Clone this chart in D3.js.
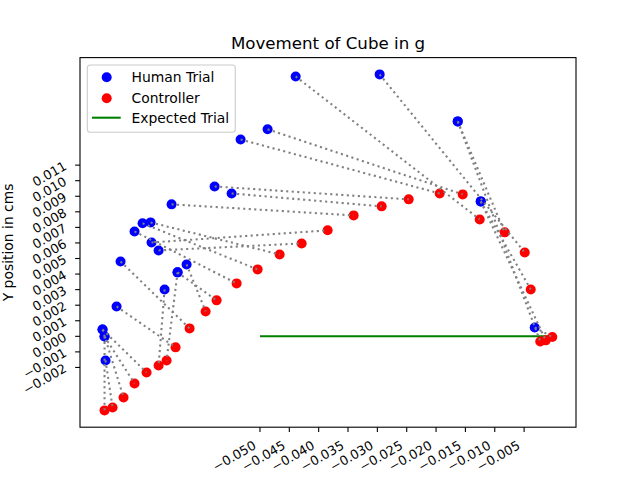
<!DOCTYPE html>
<html>
<head>
<meta charset="utf-8">
<script src="https://cdn.jsdelivr.net/npm/d3@7"></script>
<style>
  html, body { margin: 0; padding: 0; background: #fff; }
  svg { display: block; font-family: "DejaVu Sans", sans-serif; }
</style>
</head>
<body>
<svg id="chart" width="640" height="480"></svg>
<script>
// ---- data (cm) ----
const humanX = [-0.04392, -0.02961, -0.01631, -0.01631, -0.01239, -0.01239, -0.00319,
  -0.04870, -0.05330, -0.05773, -0.05483, -0.06506,
  -0.06847, -0.06727, -0.06864, -0.07000, -0.07137, -0.07375, -0.06404, -0.06250, -0.06404, -0.06625, -0.07443,
  -0.07682, -0.07648, -0.07682, -0.07631, -0.07648];
const humanY = [0.01670, 0.01683, 0.01381, 0.01381, 0.00867, 0.00867, 0.00057,
  0.01330, 0.01265, 0.00963, 0.00918, 0.00848,
  0.00603, 0.00552, 0.00732, 0.00726, 0.00674, 0.00481, 0.00411, 0.00462, 0.00411, 0.00301, 0.00192,
  0.00044, -0.00001, 0.00044, -0.00155, -0.00001];
const ctrlX = [-0.01256, -0.00489, -0.00830, -0.00225, -0.00387, -0.00131, -0.00020,
  -0.01546, -0.01938, -0.02466, -0.02927, -0.03404,
  -0.03847, -0.04290, -0.04665, -0.05040, -0.05398, -0.06199, -0.05739, -0.05926, -0.06591, -0.06727, -0.06438,
  -0.06932, -0.07137, -0.07324, -0.07511, -0.07648];
const ctrlY = [0.00751, 0.00539, 0.00668, -0.00033, 0.00301, -0.00026, -0.00004,
  0.00912, 0.00918, 0.00880, 0.00835, 0.00777,
  0.00681, 0.00597, 0.00526, 0.00430, 0.00340, 0.00051, 0.00231, 0.00160, -0.00155, -0.00187, -0.00071,
  -0.00232, -0.00303, -0.00393, -0.00457, -0.00476];
const expectedX = [-0.05, 0.0];
const expectedY = [0.0, 0.0];
const xTicks = [-0.050, -0.045, -0.040, -0.035, -0.030, -0.025, -0.020, -0.015, -0.010, -0.005];
const yTicks = [-0.002, -0.001, 0.000, 0.001, 0.002, 0.003, 0.004, 0.005, 0.006, 0.007, 0.008, 0.009, 0.010, 0.011];
const titleText = "Movement of Cube in g";
const yLabelText = "Y position in cms";
const legendLabels = ["Human Trial", "Controller", "Expected Trial"];

// ---- layout ----
const svg = d3.select("#chart");
const L = 80, R = 576, T = 57.6, B = 427.2;
const tickFont = 12.8;

function padded(ext) { const s = ext[1] - ext[0]; return [ext[0] - 0.05 * s, ext[1] + 0.05 * s]; }
const xs = padded(d3.extent([...humanX, ...ctrlX, ...expectedX]));
const ys = padded(d3.extent([...humanY, ...ctrlY, ...expectedY]));
const x = d3.scaleLinear().domain(xs).range([L, R]);
const y = d3.scaleLinear().domain(ys).range([B, T]);

const fmt = d3.format(".3f");
const minusFmt = v => fmt(v).replace("-", "\u2212");

// expected trial
svg.append("line")
  .attr("x1", x(expectedX[0])).attr("y1", y(expectedY[0]))
  .attr("x2", x(expectedX[1])).attr("y2", y(expectedY[1]))
  .attr("stroke", "#008000").attr("stroke-width", 2.08);

// scatter points
const human = humanX.map((v, i) => [v, humanY[i]]);
const ctrl = ctrlX.map((v, i) => [v, ctrlY[i]]);
svg.append("g").selectAll("circle").data(human).join("circle")
  .attr("cx", d => x(d[0])).attr("cy", d => y(d[1])).attr("r", 5).attr("fill", "#0000ff");
svg.append("g").selectAll("circle").data(ctrl).join("circle")
  .attr("cx", d => x(d[0])).attr("cy", d => y(d[1])).attr("r", 5).attr("fill", "#ff0000");

// connecting dotted lines
svg.append("g").selectAll("line").data(human).join("line")
  .attr("x1", d => x(d[0])).attr("y1", d => y(d[1]))
  .attr("x2", (d, i) => x(ctrl[i][0])).attr("y2", (d, i) => y(ctrl[i][1]))
  .attr("stroke", "#808080").attr("stroke-width", 2.08)
  .attr("stroke-dasharray", "2.08,3.44");

// frame
svg.append("rect").attr("x", L).attr("y", T).attr("width", R - L).attr("height", B - T)
  .attr("fill", "none").attr("stroke", "#000").attr("stroke-width", 1.1);

// x ticks
const xg = svg.append("g");
xTicks.forEach(t => {
  const px = x(t);
  xg.append("line").attr("x1", px).attr("x2", px).attr("y1", B).attr("y2", B + 4.86)
    .attr("stroke", "#000").attr("stroke-width", 1.1);
  xg.append("text").attr("transform", `translate(${px - 3},${B + 20.8}) rotate(-30)`)
    .attr("text-anchor", "end").attr("font-size", tickFont).attr("fill", "#000")
    .text(minusFmt(t));
});
// y ticks
const yg = svg.append("g");
yTicks.forEach(t => {
  const py = y(t);
  yg.append("line").attr("x1", L - 4.86).attr("x2", L).attr("y1", py).attr("y2", py)
    .attr("stroke", "#000").attr("stroke-width", 1.1);
  yg.append("text").attr("transform", `translate(${L - 12.5},${py + 3.5}) rotate(-30)`)
    .attr("text-anchor", "end").attr("font-size", tickFont).attr("fill", "#000")
    .text(minusFmt(t));
});

// title and y label
svg.append("text").attr("x", (L + R) / 2).attr("y", 49.3).attr("text-anchor", "middle")
  .attr("font-size", 16.67).attr("fill", "#000").text(titleText);
svg.append("text").attr("transform", `translate(13,${(T + B) / 2}) rotate(-90)`)
  .attr("text-anchor", "middle").attr("font-size", 13.9).attr("fill", "#000").text(yLabelText);

// legend
const lg = svg.append("g");
lg.append("rect").attr("x", 87.3).attr("y", 65).attr("width", 148).attr("height", 67.3)
  .attr("rx", 3).attr("fill", "#fff").attr("fill-opacity", 0.8)
  .attr("stroke", "#cccccc").attr("stroke-width", 1.1);
const ly = [77.3, 98.3, 117.7];
lg.append("circle").attr("cx", 106.7).attr("cy", ly[0]).attr("r", 5).attr("fill", "#0000ff");
lg.append("circle").attr("cx", 106.7).attr("cy", ly[1]).attr("r", 5).attr("fill", "#ff0000");
lg.append("line").attr("x1", 92).attr("x2", 120.7).attr("y1", ly[2]).attr("y2", ly[2])
  .attr("stroke", "#008000").attr("stroke-width", 2.08);
legendLabels.forEach((s, i) => {
  lg.append("text").attr("x", 131.5).attr("y", ly[i] + 5).attr("font-size", 13.9)
    .attr("fill", "#000").text(s);
});
</script>
</body>
</html>
